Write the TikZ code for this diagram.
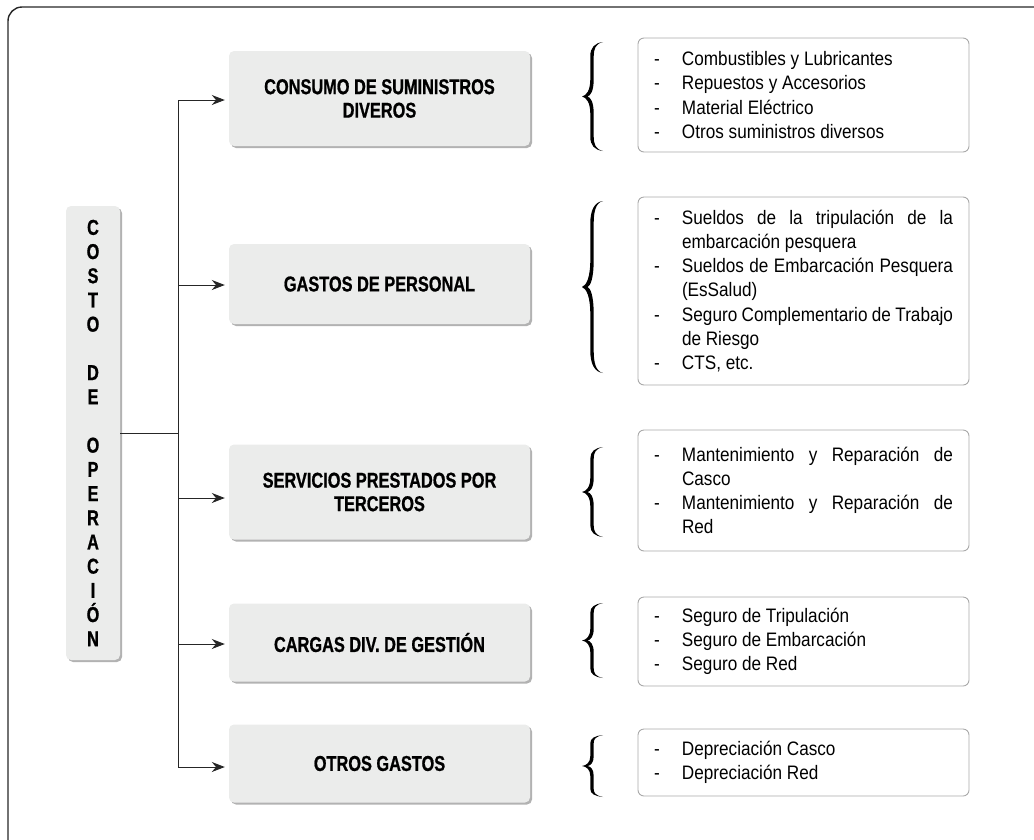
\documentclass[tikz,border=0pt]{standalone}
\usepackage{fontspec}
\setmainfont{Liberation Sans}
\newfontfamily\regf[FakeStretch=0.88]{Liberation Sans}
\newfontfamily\boldf[FakeStretch=0.76,BoldFeatures={FakeBold=0.8}]{Liberation Sans}
\usetikzlibrary{arrows.meta,shadows}
\definecolor{boxgray}{HTML}{EBECEB}
\definecolor{shadowgray}{HTML}{B2B2B2}
\definecolor{rborder}{HTML}{A9A9A9}
\newcommand{\itm}[1]{\hangindent=28pt\hangafter=1\noindent\makebox[28pt][l]{-}#1\par}
\newcommand{\rfont}{\regf\fontsize{19.5}{24.2}\selectfont\hyphenpenalty=10000\relax}
\tikzset{
  lbox/.style={fill=boxgray, rounded corners=5pt, minimum width=301pt, inner sep=0pt, align=center,
    font=\boldf\bfseries\fontsize{21.5}{23.5}\selectfont,
    drop shadow={shadow xshift=2pt, shadow yshift=-2pt, fill=shadowgray, opacity=1}},
  cbox/.style={fill=boxgray, rounded corners=5pt, minimum width=54pt, minimum height=454pt, inner sep=0pt, align=center,
    font=\boldf\bfseries\fontsize{21.5}{24.2}\selectfont,
    drop shadow={shadow xshift=2pt, shadow yshift=-2pt, fill=shadowgray, opacity=1}},
  rbox/.style={draw=rborder, line width=0.9pt, rounded corners=6pt, fill=white, text width=299pt,
    inner xsep=16pt, inner ysep=0pt, align=justify, font=\rfont},
  conn/.style={line width=1pt, black!85},
  arr/.style={conn, -{Stealth[length=13pt,width=10pt]}, shorten >=4pt},
  pics/curly/.style={code={
    \pgfmathsetmacro{\brH}{#1/2}
    \pgfmathsetmacro{\brq}{0.13*#1}
    \pgfmathsetmacro{\brr}{0.16*#1}
    \fill[black]
      (10.5,-\brH) .. controls (2,-\brH+1) and (-2.2,-\brH+0.4*\brq) .. (-2.2,-\brH+\brq)
      -- (-2.2,-\brr) .. controls (-2.2,-0.35*\brr) and (-6,-0.06*\brr) .. (-10.5,0)
      .. controls (-6,0.06*\brr) and (-2.2,0.35*\brr) .. (-2.2,\brr)
      -- (-2.2,\brH-\brq) .. controls (-2.2,\brH-0.4*\brq) and (2,\brH-1) .. (10.5,\brH)
      .. controls (3,\brH-1.6) and (1.2,\brH-0.5*\brq) .. (1.2,\brH-\brq)
      -- (1.2,\brr) .. controls (1.2,0.3*\brr) and (-2,0.05*\brr) .. (-5,0)
      .. controls (-2,-0.05*\brr) and (1.2,-0.3*\brr) .. (1.2,-\brr)
      -- (1.2,-\brH+\brq) .. controls (1.2,-\brH+0.5*\brq) and (3,-\brH+1.6) .. (10.5,-\brH)
      -- cycle;
  }}
}
\begin{document}
\begin{tikzpicture}[x=1pt,y=-1pt]
\useasboundingbox (0,0) rectangle (1034,839);
\draw[line width=1.4pt, black!85, rounded corners=14pt] (8,7) rectangle (1050,856);

% central node
\node[cbox] (c) at (93,433) {C\\O\\S\\T\\O\\~\\D\\E\\~\\O\\P\\E\\R\\A\\C\\I\\Ó\\N};

% category boxes
\node[lbox, minimum height=95pt] (b1) at (379.5,98.5) {CONSUMO DE SUMINISTROS\\DIVEROS};
\node[lbox, minimum height=80pt] (b2) at (379.5,284) {GASTOS DE PERSONAL};
\node[lbox, minimum height=95pt] (b3) at (379.5,492) {SERVICIOS PRESTADOS POR\\TERCEROS};
\node[lbox, minimum height=78pt] (b4) at (379.5,642.5) {CARGAS DIV. DE GESTIÓN};
\node[lbox, minimum height=78pt] (b5) at (379.5,763.5) {OTROS GASTOS};

% trunk
\coordinate (t1) at (178,100);
\coordinate (t2) at (178,285);
\coordinate (tm) at (178,433);
\coordinate (t3) at (178,498);
\coordinate (t4) at (178,644);
\coordinate (t5) at (178,767);
\draw[conn] (t1) -- (t5);
\draw[conn] (c.east |- tm) -- (tm);
\draw[arr] (t1) -- (t1 -| b1.west);
\draw[arr] (t2) -- (t2 -| b2.west);
\draw[arr] (t3) -- (t3 -| b3.west);
\draw[arr] (t4) -- (t4 -| b4.west);
\draw[arr] (t5) -- (t5 -| b5.west);

% braces
\pic (k1) at (592.5,96.5) {curly=109};
\pic (k2) at (592.5,287) {curly=172};
\pic (k3) at (592.5,492) {curly=90};
\pic (k4) at (592.5,640.5) {curly=75};
\pic (k5) at (592.5,766) {curly=62};

% detail boxes
\node[rbox, minimum height=114pt] (d1) at (803.5,95) {\itm{Combustibles y Lubricantes}\itm{Repuestos y Accesorios}\itm{Material Eléctrico}\itm{Otros suministros diversos}};
\node[rbox, minimum height=188pt] (d2) at (803.5,291) {\itm{Sueldos de la tripulación de la\linebreak embarcación pesquera}\itm{Sueldos de Embarcación Pesquera\linebreak (EsSalud)}\itm{Seguro Complementario de Trabajo\linebreak de Riesgo}\itm{CTS, etc.}};
\node[rbox, minimum height=121pt] (d3) at (803.5,490.5) {\itm{Mantenimiento y Reparación de\linebreak Casco}\itm{Mantenimiento y Reparación de\linebreak Red}};
\node[rbox, minimum height=89pt] (d4) at (803.5,641.5) {\itm{Seguro de Tripulación}\itm{Seguro de Embarcación}\itm{Seguro de Red}};
\node[rbox, minimum height=67pt] (d5) at (803.5,762.5) {\itm{Depreciación Casco}\itm{Depreciación Red}};
\end{tikzpicture}
\end{document}
